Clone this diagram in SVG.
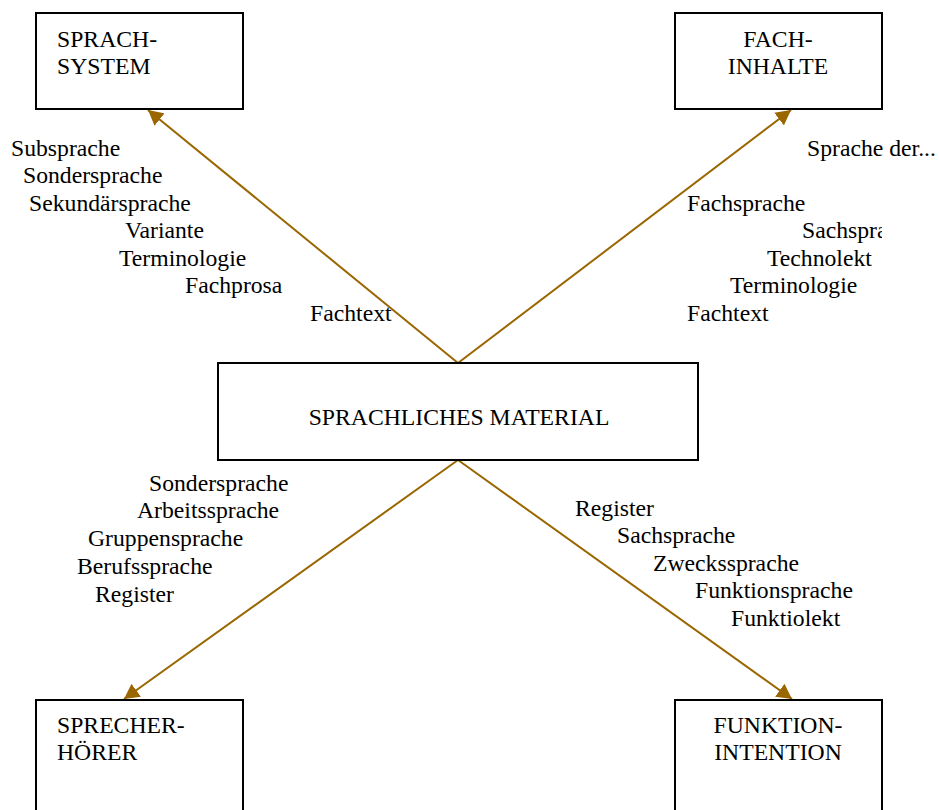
<svg xmlns="http://www.w3.org/2000/svg" width="939" height="810" viewBox="0 0 939 810">
<style>
text{font-family:"Liberation Serif","Times New Roman",serif;font-size:23.7px;fill:#000}
.box{fill:#fff;stroke:#000;stroke-width:2}
.mid{text-anchor:middle}
.conn{stroke:#996600;stroke-width:2;fill:none;marker-end:url(#ah)}
</style>
<defs>
<marker id="ah" markerUnits="userSpaceOnUse" markerWidth="16" markerHeight="16" refX="15" refY="8" orient="auto">
<path d="M0,0 L15,8 L0,16 z" fill="#996600"/>
</marker>
<clipPath id="clipR"><rect x="0" y="0" width="882" height="810"/></clipPath>
</defs>
<rect width="939" height="810" fill="#fff"/>
<g id="connectors">
<line class="conn" x1="458" y1="363" x2="148" y2="110"/>
<line class="conn" x1="458" y1="363" x2="791" y2="110"/>
<line class="conn" x1="458" y1="460" x2="124" y2="699"/>
<line class="conn" x1="458" y1="460" x2="792" y2="699"/>
</g>
<g id="sprachsystem">
<rect class="box" x="36" y="13" width="207" height="96"/>
<text x="57" y="47">SPRACH-</text>
<text x="57" y="74">SYSTEM</text>
</g>
<g id="fachinhalte">
<rect class="box" x="675" y="13" width="207" height="96"/>
<text class="mid" x="778" y="47">FACH-</text>
<text class="mid" x="778" y="74">INHALTE</text>
</g>
<g id="material">
<rect class="box" x="218" y="363" width="480" height="97"/>
<text class="mid" x="459" y="425">SPRACHLICHES MATERIAL</text>
</g>
<g id="sprecher">
<rect class="box" x="36" y="700" width="207" height="120"/>
<text x="57" y="733">SPRECHER-</text>
<text x="57" y="760">HÖRER</text>
</g>
<g id="funktion">
<rect class="box" x="675" y="700" width="207" height="120"/>
<text class="mid" x="778" y="733">FUNKTION-</text>
<text class="mid" x="778" y="760">INTENTION</text>
</g>
<g id="labels-top-left">
<text x="11" y="156">Subsprache</text>
<text x="23" y="183">Sondersprache</text>
<text x="29" y="211">Sekundärsprache</text>
<text x="125" y="238">Variante</text>
<text x="119" y="266">Terminologie</text>
<text x="185" y="293">Fachprosa</text>
<text x="310" y="321">Fachtext</text>
</g>
<g id="labels-top-right">
<text x="807" y="156">Sprache der...</text>
<text x="687" y="211">Fachsprache</text>
<text x="802" y="238" clip-path="url(#clipR)">Sachsprache</text>
<text x="767" y="266">Technolekt</text>
<text x="730" y="293">Terminologie</text>
<text x="687" y="321">Fachtext</text>
</g>
<g id="labels-bottom-left">
<text x="149" y="491">Sondersprache</text>
<text x="137" y="518">Arbeitssprache</text>
<text x="88" y="546">Gruppensprache</text>
<text x="77" y="574">Berufssprache</text>
<text x="95" y="602">Register</text>
</g>
<g id="labels-bottom-right">
<text x="575" y="516">Register</text>
<text x="617" y="543">Sachsprache</text>
<text x="653" y="571">Zweckssprache</text>
<text x="695" y="598">Funktionsprache</text>
<text x="731" y="626">Funktiolekt</text>
</g>
</svg>
